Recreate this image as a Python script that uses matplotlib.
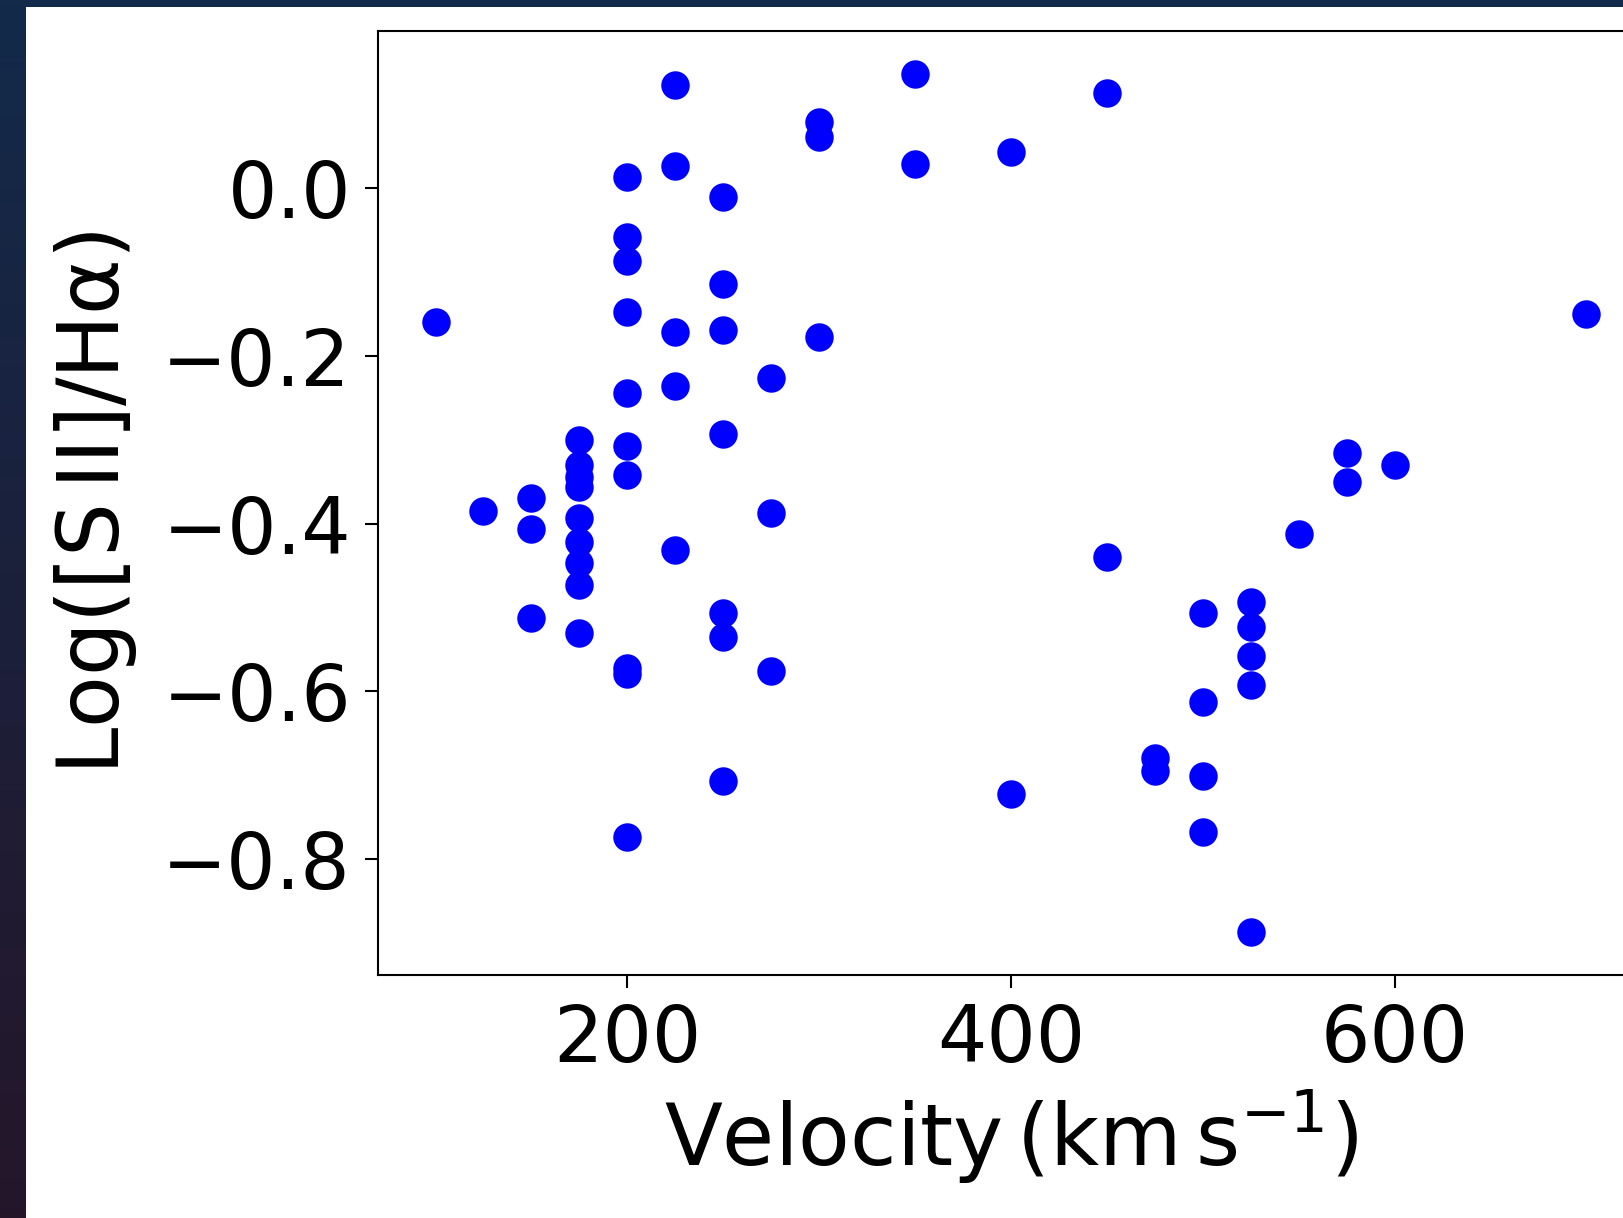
import numpy as np
import matplotlib
matplotlib.use("Agg")
import matplotlib.pyplot as plt
from matplotlib.patches import Rectangle

# ---- data (velocity in km/s, log([SII]/Halpha)) ----
vel_100 = [100]
ratio_100 = [-0.160]
vel_125 = [125]
ratio_125 = [-0.385]
vel_150 = [150, 150, 150]
ratio_150 = [-0.369, -0.406, -0.513]
vel_175 = [175] * 9
ratio_175 = [-0.300, -0.330, -0.344, -0.356, -0.393, -0.422, -0.447, -0.473, -0.531]
vel_200 = [200] * 10
ratio_200 = [0.013, -0.059, -0.087, -0.148, -0.245, -0.308, -0.342, -0.572, -0.579, -0.774]
vel_225 = [225] * 5
ratio_225 = [0.123, 0.026, -0.172, -0.236, -0.431]
vel_250 = [250] * 7
ratio_250 = [-0.011, -0.114, -0.169, -0.293, -0.507, -0.535, -0.707]
vel_275 = [275] * 3
ratio_275 = [-0.227, -0.388, -0.576]
vel_300 = [300] * 3
ratio_300 = [0.078, 0.061, -0.178]
vel_350 = [350] * 2
ratio_350 = [0.136, 0.028]
vel_400 = [400] * 2
ratio_400 = [0.043, -0.722]
vel_450 = [450] * 2
ratio_450 = [0.113, -0.440]
vel_475 = [475] * 2
ratio_475 = [-0.679, -0.695]
vel_500 = [500] * 4
ratio_500 = [-0.507, -0.613, -0.701, -0.768]
vel_525 = [525] * 5
ratio_525 = [-0.494, -0.523, -0.558, -0.592, -0.887]
vel_550 = [550]
ratio_550 = [-0.413]
vel_575 = [575] * 2
ratio_575 = [-0.316, -0.351]
vel_600 = [600]
ratio_600 = [-0.330]
vel_700 = [700]
ratio_700 = [-0.150]

velocity = (vel_100 + vel_125 + vel_150 + vel_175 + vel_200 + vel_225 + vel_250 +
            vel_275 + vel_300 + vel_350 + vel_400 + vel_450 + vel_475 + vel_500 +
            vel_525 + vel_550 + vel_575 + vel_600 + vel_700)
ratio = (ratio_100 + ratio_125 + ratio_150 + ratio_175 + ratio_200 + ratio_225 +
         ratio_250 + ratio_275 + ratio_300 + ratio_350 + ratio_400 + ratio_450 +
         ratio_475 + ratio_500 + ratio_525 + ratio_550 + ratio_575 + ratio_600 +
         ratio_700)

W, H = 1624, 1218
fig = plt.figure(figsize=(W / 100, H / 100), dpi=100)

# dark "space" background with gradient
bg = fig.add_axes([0, 0, 1, 1], zorder=-10)
grad = np.linspace(0, 1, 256)[:, None]
top = np.array([0x13, 0x2a, 0x4a]) / 255
bot = np.array([0x25, 0x16, 0x2a]) / 255
img = top[None, None, :] * (1 - grad[:, :, None]) + bot[None, None, :] * grad[:, :, None]
bg.imshow(img, aspect="auto", extent=[0, 1, 0, 1], origin="upper")
bg.set_xlim(0, 1)
bg.set_ylim(0, 1)
bg.axis("off")
# white panel
bg.add_patch(Rectangle((26 / W, 0), 1, 1 - 7 / H, transform=bg.transAxes,
                       facecolor="white", edgecolor="none"))

# main axes (right spine falls outside the figure, as in the cropped reference)
left_px, right_px, top_px, bottom_px = 378, 1644, 31, 975
ax = fig.add_axes([left_px / W, 1 - bottom_px / H,
                   (right_px - left_px) / W, (bottom_px - top_px) / H])

ax.plot(velocity, ratio, "o", color="blue", markersize=20.5, markeredgewidth=0)
ax.set_xlim(70, 730)
ax.set_ylim(-0.938, 0.187)
ax.set_xticks([200, 400, 600])
ax.set_yticks([0.0, -0.2, -0.4, -0.6, -0.8])

for s in ax.spines.values():
    s.set_linewidth(1.5)
ax.tick_params(labelsize=56, length=9.5, width=1.5, pad=10)

ax.set_xlabel(r"$\rm Velocity\,(km\,s^{-1})$", fontsize=61, labelpad=6)
ax.set_ylabel(r"$\rm Log([S\,II]/H\alpha)$", fontsize=61, labelpad=17)

fig.savefig("out.png", dpi=100)
